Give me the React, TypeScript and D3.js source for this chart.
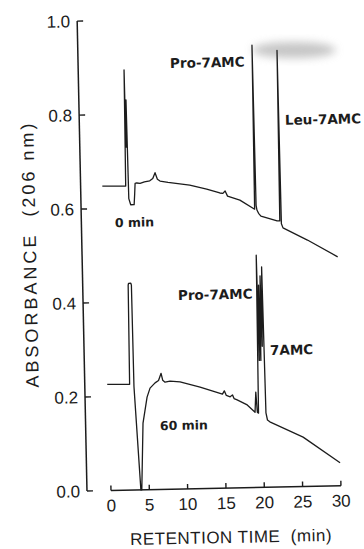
import React from "react";
import * as d3 from "d3";

// ---------- data ----------
const yTickValues = [0.0, 0.2, 0.4, 0.6, 0.8, 1.0];
const yTickLabels = ["0.0", "0.2", "0.4", "0.6", "0.8", "1.0"];
const xTickValues = [0, 5, 10, 15, 20, 25, 30];
const xTickLabels = ["0", "5", "10", "15", "20", "25", "30"];

// 0 min chromatogram (retention time, absorbance)
const time0 = [
  -0.3, 2.75, 2.85, 2.9, 2.94, 2.98, 3.02, 3.12, 3.35, 3.8, 3.9, 3.98, 4.2, 4.63, 5.2, 5.9,
  6.3, 6.61, 6.9, 7.24, 8.28, 11.1, 13.3, 15.0, 15.4, 15.7, 16.0, 17.6, 19.5, 19.6, 19.7,
  19.8, 20.0, 20.3, 22.4, 22.75, 22.85, 22.95, 23.15, 26.3, 30.2,
];
const abs0 = [
  0.648, 0.647, 0.894, 0.73, 0.83, 0.73, 0.83, 0.62, 0.607, 0.607, 0.63, 0.652, 0.653, 0.652,
  0.655, 0.657, 0.662, 0.674, 0.66, 0.656, 0.653, 0.646, 0.637, 0.628, 0.627, 0.632, 0.621,
  0.612, 0.592, 0.941, 0.6, 0.59, 0.583, 0.577, 0.566, 0.566, 0.929, 0.56, 0.551, 0.524,
  0.487,
];

// 60 min chromatogram
const time60 = [
  -0.2, 2.72, 2.8, 2.85, 3.15, 3.22, 3.28, 3.9, 4.02, 4.36, 4.96, 5.37, 6.04, 6.5, 6.85,
  7.05, 7.34, 8.0, 9.3, 11.9, 14.8, 15.05, 15.3, 15.8, 16.1, 16.3, 16.7, 18.0, 19.0, 19.15,
  19.3, 19.45, 19.58, 19.7, 19.8, 19.9, 20.02, 20.12, 20.25, 20.42, 20.6, 20.9, 25.2, 29.95,
];
const abs60 = [
  0.226, 0.225, 0.436, 0.44, 0.44, 0.436, 0.22, 0.0, 0.0, 0.142, 0.197, 0.216, 0.227,
  0.232, 0.247, 0.232, 0.228, 0.23, 0.228, 0.216, 0.2, 0.207, 0.197, 0.194, 0.198, 0.19,
  0.187, 0.176, 0.16, 0.203, 0.16, 0.158, 0.494, 0.27, 0.43, 0.27, 0.45, 0.3, 0.469, 0.158,
  0.143, 0.139, 0.105, 0.049,
];

// peak / trace annotations (anchored in data coordinates)
const labelText = ["Pro-7AMC", "Leu-7AMC", "0 min", "Pro-7AMC", "7AMC", "60 min"];
const labelTime = [8.86, 23.7, 1.24, 9.26, 21.12, 6.56];
const labelAbs = [0.896, 0.77, 0.56, 0.402, 0.281, 0.126];

const xTitle = "RETENTION TIME  (min)";
const yTitle = "ABSORBANCE  (206 nm)";

// ---------- chart ----------
const W = 364;
const H = 549;

export default function App() {
  const x = d3.scaleLinear().domain([0, 30]).range([111, 341]);
  const y = d3.scaleLinear().domain([0, 1]).range([491, 21]);
  const axisX = 87;

  const line = d3
    .line<[number, number]>()
    .x((d) => x(d[0]))
    .y((d) => y(d[1]));

  const pts0: [number, number][] = time0.map((t, i) => [t, abs0[i]]);
  const pts60: [number, number][] = time60.map((t, i) => [t, abs60[i]]);

  const tickFont = "'Liberation Sans', Arial, sans-serif";
  const labFont = "'DejaVu Sans', sans-serif";
  const ink = "#1c1c1c";

  return (
    <svg
      width={W}
      height={H}
      viewBox={`0 0 ${W} ${H}`}
      style={{ position: "absolute", left: 0, top: 0, background: "#fff" }}
    >
      <defs>
        <filter id="smudge" x="-50%" y="-50%" width="200%" height="200%">
          <feGaussianBlur stdDeviation="4" />
        </filter>
      </defs>
      <rect x={0} y={0} width={W} height={H} fill="#fff" />
      <ellipse cx={294} cy={50} rx={42} ry={8} fill="#a0a0a0" opacity={0.6} filter="url(#smudge)" />
      <g transform={`rotate(-1.2 ${axisX} ${y(0)})`}>
        {/* y axis */}
        <line x1={axisX} x2={axisX} y1={y(0)} y2={y(1)} stroke={ink} strokeWidth={1.5} />
        {yTickValues.map((v, i) => (
          <g key={"yt" + i}>
            <line x1={axisX} x2={axisX + 6} y1={y(v)} y2={y(v)} stroke={ink} strokeWidth={1.4} />
            <text
              x={axisX - 7}
              y={y(v)}
              dy="0.36em"
              textAnchor="end"
              fontFamily={tickFont}
              fontSize={17}
              fill={ink}
            >
              {yTickLabels[i]}
            </text>
          </g>
        ))}
        {/* x axis */}
        <line x1={x(0)} x2={x(30)} y1={y(0)} y2={y(0)} stroke={ink} strokeWidth={1.5} />
        {xTickValues.map((t, i) => (
          <g key={"xt" + i}>
            <line x1={x(t)} x2={x(t)} y1={y(0)} y2={y(0) - 5} stroke={ink} strokeWidth={1.4} />
            <text
              x={x(t)}
              y={y(0) + 21}
              textAnchor="middle"
              fontFamily={tickFont}
              fontSize={17}
              fill={ink}
            >
              {xTickLabels[i]}
            </text>
          </g>
        ))}
        <text
          x={230}
          y={546}
          textAnchor="middle"
          fontFamily={tickFont}
          fontSize={17}
          letterSpacing={0.5}
          fill={ink}
          style={{ whiteSpace: "pre" }}
        >
          {xTitle}
        </text>
        <text
          transform={`translate(41,253) rotate(-90)`}
          textAnchor="middle"
          fontFamily={tickFont}
          fontSize={18}
          letterSpacing={3}
          fill={ink}
          style={{ whiteSpace: "pre" }}
        >
          {yTitle}
        </text>

        {/* traces */}
        <path d={line(pts0) || ""} fill="none" stroke={ink} strokeWidth={1.3} strokeLinejoin="round" />
        <path d={line(pts60) || ""} fill="none" stroke={ink} strokeWidth={1.3} strokeLinejoin="round" />

        {labelText.map((s, i) => (
          <text
            key={"lab" + i}
            x={x(labelTime[i])}
            y={y(labelAbs[i])}
            fontFamily={labFont}
            fontWeight="bold"
            fontSize={s.includes("min") ? 12.5 : 13.5}
            fill={ink}
          >
            {s}
          </text>
        ))}
      </g>
    </svg>
  );
}
